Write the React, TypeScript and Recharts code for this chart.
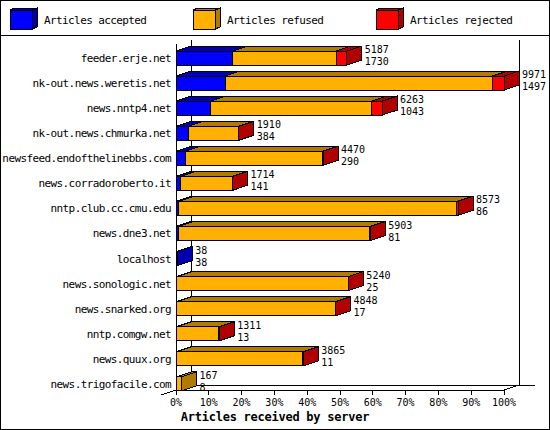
import { Bar, BarChart, Customized, Legend, XAxis, YAxis, usePlotArea } from 'recharts';

const servers = [
  'feeder.erje.net',
  'nk-out.news.weretis.net',
  'news.nntp4.net',
  'nk-out.news.chmurka.net',
  'newsfeed.endofthelinebbs.com',
  'news.corradoroberto.it',
  'nntp.club.cc.cmu.edu',
  'news.dne3.net',
  'localhost',
  'news.sonologic.net',
  'news.snarked.org',
  'nntp.comgw.net',
  'news.quux.org',
  'news.trigofacile.com',
];
const received = [5187, 9971, 6263, 1910, 4470, 1714, 8573, 5903, 38, 5240, 4848, 1311, 3865, 167];
const accepted = [1730, 1497, 1043, 384, 290, 141, 86, 81, 38, 25, 17, 13, 11, 8];
const refused = [3142, 8118, 4903, 1520, 4171, 1568, 8447, 5815, 0, 5209, 4823, 1294, 3849, 159];
const rejected = [315, 356, 317, 6, 9, 5, 40, 7, 0, 6, 8, 4, 5, 0];
const pctTicks = [0, 10, 20, 30, 40, 50, 60, 70, 80, 90, 100];

const W = 550;
const H = 430;
const FONT = '"DejaVu Sans Mono", "Liberation Mono", monospace';
const DEPTH_X = 15;
const DEPTH_Y = 5;
const FLOOR_LIFT = 6;

const SERIES = [
  { key: 'accepted', name: 'Articles accepted', front: '#0000ff', dark: '#0000b0' },
  { key: 'refused', name: 'Articles refused', front: '#ffb000', dark: '#b07c00' },
  { key: 'rejected', name: 'Articles rejected', front: '#ff0000', dark: '#b00000' },
];

const rows = servers.map((server, i) => ({
  server,
  accepted: accepted[i],
  refused: refused[i],
  rejected: rejected[i],
}));
const fullScale = Math.max(...received);
const xTicks = pctTicks.map((p) => (p / 100) * fullScale);

// front face + top face, side face only on the last non-empty segment
function barShape(si: number) {
  return function Shape(props: any) {
    const { x, y, width, height, index } = props;
    const s = SERIES[si];
    const row: any = rows[index];
    let last = -1;
    SERIES.forEach((ser, k) => {
      if (row[ser.key] > 0) last = k;
    });
    const w = Math.max(0, width);
    const end = x + w;
    const cy = y + height / 2;
    return (
      <g shapeRendering="crispEdges">
        {row[s.key] > 0 && (
          <g stroke="#000" strokeWidth={1}>
            <polygon
              points={`${x},${y} ${x + DEPTH_X},${y - DEPTH_Y} ${end + DEPTH_X},${y - DEPTH_Y} ${end},${y}`}
              fill={s.dark}
            />
            <rect x={x} y={y} width={w} height={height} fill={s.front} />
            {last === si && (
              <polygon
                points={`${end},${y} ${end + DEPTH_X},${y - DEPTH_Y} ${end + DEPTH_X},${y + height - DEPTH_Y} ${end},${y + height}`}
                fill={s.dark}
              />
            )}
          </g>
        )}
        {si === SERIES.length - 1 && (
          <g fontFamily={FONT} fontSize={10} fill="#000">
            <text x={end + DEPTH_X + 3} y={cy - 5}>{received[index]}</text>
            <text x={end + DEPTH_X + 3} y={cy + 7}>{accepted[index]}</text>
          </g>
        )}
      </g>
    );
  };
}

function ServerTick(props: any) {
  const { x, y, payload } = props;
  return (
    <text
      x={x}
      y={y}
      dy="0.4em"
      textAnchor="end"
      fontFamily={FONT}
      fontSize={11}
      fill="#000"
      style={{ letterSpacing: -0.6 }}
    >
      {payload.value}
    </text>
  );
}

function PctTick(props: any) {
  const { x, y, payload } = props;
  const floor = y - FLOOR_LIFT;
  return (
    <g>
      <line x1={x} x2={x} y1={floor} y2={floor + 5} stroke="#000" shapeRendering="crispEdges" />
      <text
        x={x}
        y={floor + 16}
        textAnchor="middle"
        fontFamily={FONT}
        fontSize={10}
        fill="#000"
      >
        {`${Math.round((payload.value / fullScale) * 100)}%`}
      </text>
    </g>
  );
}

function Walls() {
  const plot = usePlotArea();
  if (!plot) return null;
  const left = plot.x;
  const right = plot.x + plot.width;
  const top = plot.y;
  const floor = plot.y + plot.height - FLOOR_LIFT;
  return (
    <g>
      <g stroke="#000" strokeWidth={1} fill="none" shapeRendering="crispEdges">
        <rect x={0.5} y={0.5} width={W - 1} height={H - 1} />
        <line x1={0} x2={W} y1={35} y2={35} />
        <line x1={left + DEPTH_X} x2={left + DEPTH_X} y1={top - DEPTH_Y} y2={floor - DEPTH_Y} />
        <line x1={right + DEPTH_X} x2={right + DEPTH_X} y1={top - DEPTH_Y} y2={floor - DEPTH_Y} />
        <line x1={left + DEPTH_X} x2={right + DEPTH_X + 16} y1={floor - DEPTH_Y} y2={floor - DEPTH_Y} />
        <line x1={left} x2={left} y1={top - 1} y2={floor} />
        <line x1={left} x2={right} y1={floor} y2={floor} />
        <line x1={left - DEPTH_X} y1={floor + DEPTH_Y} x2={left + DEPTH_X} y2={floor - DEPTH_Y} />
        <line x1={right} y1={floor} x2={right + DEPTH_X} y2={floor - DEPTH_Y} />
      </g>
      <text
        x={W / 2}
        y={421}
        textAnchor="middle"
        fontFamily={FONT}
        fontWeight="bold"
        fontSize={12}
        fill="#000"
        style={{ letterSpacing: -0.25 }}
      >
        Articles received by server
      </text>
    </g>
  );
}

function LegendBoxes() {
  return (
    <div style={{ position: 'relative', width: W, height: 35 }}>
      {SERIES.map((s, i) => (
        <svg
          key={s.key}
          width={180}
          height={35}
          style={{ position: 'absolute', left: 10 + i * 183, top: 0 }}
        >
          <g stroke="#000" strokeWidth={1} shapeRendering="crispEdges">
            <polygon points="0,10 5,8 27,8 22,10" fill={s.dark} />
            <polygon points="22,10 27,8 27,27 22,29" fill={s.dark} />
            <rect x={0} y={10} width={22} height={19} fill={s.front} />
          </g>
          <text x={34} y={24} fontFamily={FONT} fontSize={11} fill="#000" style={{ letterSpacing: -0.6 }}>
            {s.name}
          </text>
        </svg>
      ))}
    </div>
  );
}

export default function App() {
  return (
    <div style={{ position: 'absolute', left: 0, top: 0, width: W, height: H, background: '#fff' }}>
      <BarChart
        width={W}
        height={H}
        layout="vertical"
        data={rows}
        margin={{ top: 45, right: 46, bottom: 4, left: 0 }}
        barSize={14}
      >
        <Customized component={<Walls />} />
        <XAxis
          type="number"
          domain={[0, fullScale]}
          ticks={xTicks}
          interval={0}
          height={30}
          axisLine={false}
          tickLine={false}
          tickSize={0}
          tickMargin={0}
          tick={<PctTick />}
        />
        <YAxis
          type="category"
          dataKey="server"
          width={176}
          axisLine={false}
          tickLine={false}
          tickSize={0}
          tickMargin={5}
          interval={0}
          tick={<ServerTick />}
        />
        <Legend
          layout="horizontal"
          verticalAlign="middle"
          align="center"
          wrapperStyle={{ top: 0, left: 0, width: W, height: 35, margin: 0, padding: 0 }}
          content={() => <LegendBoxes />}
        />
        {SERIES.map((s, i) => (
          <Bar
            key={s.key}
            dataKey={s.key}
            name={s.name}
            stackId="a"
            fill={s.front}
            shape={barShape(i)}
            isAnimationActive={false}
          />
        ))}
      </BarChart>
    </div>
  );
}
